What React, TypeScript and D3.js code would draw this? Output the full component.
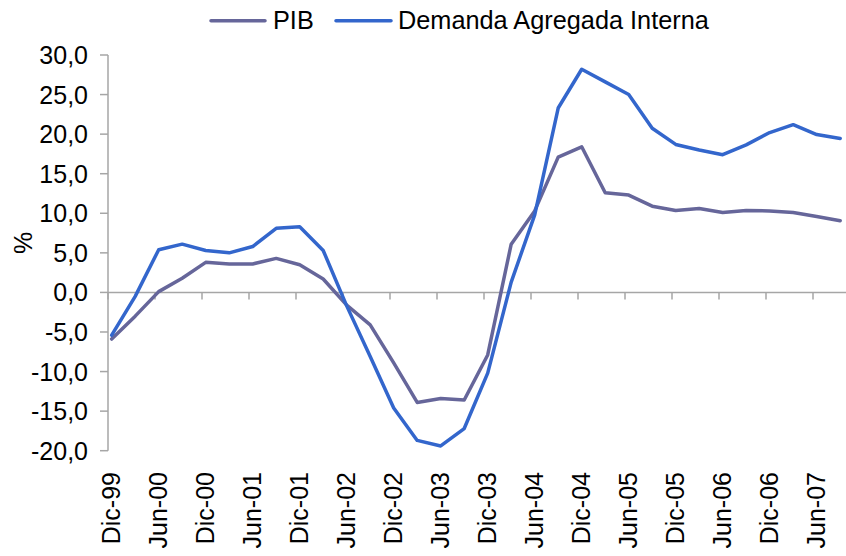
import React from "react";
import * as d3 from "d3";

const categories = [
  "Dic-99","Mar-00","Jun-00","Sep-00","Dic-00","Mar-01","Jun-01","Sep-01",
  "Dic-01","Mar-02","Jun-02","Sep-02","Dic-02","Mar-03","Jun-03","Sep-03",
  "Dic-03","Mar-04","Jun-04","Sep-04","Dic-04","Mar-05","Jun-05","Sep-05",
  "Dic-05","Mar-06","Jun-06","Sep-06","Dic-06","Mar-07","Jun-07","Sep-07",
];

const pib = [
  -5.9, -3.0, 0.1, 1.8, 3.8, 3.6, 3.6, 4.3,
  3.5, 1.7, -1.6, -4.1, -8.9, -13.9, -13.4, -13.6,
  -7.9, 6.1, 10.3, 17.1, 18.4, 12.6, 12.3, 10.9,
  10.35, 10.6, 10.1, 10.35, 10.3, 10.1, 9.6, 9.05,
];

const demanda = [
  -5.4, -0.5, 5.4, 6.1, 5.3, 5.0, 5.8, 8.1,
  8.3, 5.3, -1.7, -8.1, -14.6, -18.7, -19.4, -17.2,
  -10.2, 1.3, 9.8, 23.3, 28.2, 26.6, 25.0, 20.75,
  18.7, 18.0, 17.4, 18.65, 20.2, 21.2, 19.95, 19.45,
];

const yTicks = [30, 25, 20, 15, 10, 5, 0, -5, -10, -15, -20];
const seriesNames = ["PIB", "Demanda Agregada Interna"];
const seriesColors = ["#66669A", "#3366CC"];

const W = 846;
const H = 556;
const FONT = "'Liberation Sans', Arial, sans-serif";
const FS = 25;

export default function App() {
  const x = d3.scaleLinear().domain([0, categories.length - 1]).range([111.7, 840.2]);
  const y = d3.scaleLinear().domain([-20, 30]).range([450.7, 55]);
  const axisX = 108;
  const tickOffset = -3.7;
  const fmt = (v: number) => d3.format(".1f")(v).replace(".", ",").replace("−", "-");

  const line = d3
    .line<number>()
    .x((_, i) => x(i))
    .y((d) => y(d));

  const series = [pib, demanda];
  const labelIdx = categories.map((_, i) => i).filter((i) => i % 2 === 0);

  return (
    <svg width={W} height={H} style={{ position: "absolute", left: 0, top: 0, background: "#fff" }}>
      <rect x={0} y={0} width={W} height={H} fill="#fff" />
      {/* Y axis */}
      <line x1={axisX} x2={axisX} y1={y(30)} y2={y(-20)} stroke="#A6A6A6" strokeWidth={1.5} />
      {yTicks.map((t) => (
        <g key={t}>
          <line x1={axisX - 8} x2={axisX} y1={y(t)} y2={y(t)} stroke="#A6A6A6" strokeWidth={1.5} />
          <text
            x={88}
            y={y(t)}
            dy="0.36em"
            textAnchor="end"
            fontFamily={FONT}
            fontSize={FS}
            fill="#000"
          >
            {fmt(t)}
          </text>
        </g>
      ))}
      {/* X axis at zero */}
      <line x1={axisX} x2={W} y1={y(0)} y2={y(0)} stroke="#A6A6A6" strokeWidth={1.5} />
      {labelIdx.map((i) => (
        <line
          key={"t" + i}
          x1={x(i) + tickOffset}
          x2={x(i) + tickOffset}
          y1={y(0)}
          y2={y(0) + 7}
          stroke="#A6A6A6"
          strokeWidth={1.5}
        />
      ))}
      {labelIdx.map((i) => (
        <text
          key={"l" + i}
          transform={`translate(${x(i) - 1},472) rotate(-90)`}
          dy="0.36em"
          textAnchor="end"
          fontFamily={FONT}
          fontSize={FS}
          fill="#000"
        >
          {categories[i]}
        </text>
      ))}
      {/* Y label */}
      <text
        transform={`translate(23,243) rotate(-90)`}
        dy="0.36em"
        textAnchor="middle"
        fontFamily={FONT}
        fontSize={FS}
        fill="#000"
      >
        %
      </text>
      {/* Lines */}
      {series.map((s, k) => (
        <path
          key={k}
          d={line(s) || ""}
          fill="none"
          stroke={seriesColors[k]}
          strokeWidth={3.5}
          strokeLinejoin="round"
          strokeLinecap="round"
        />
      ))}
      {/* Legend */}
      <g>
        <line x1={211} x2={265} y1={20.7} y2={20.7} stroke={seriesColors[0]} strokeWidth={3.5} strokeLinecap="round" />
        <text x={273} y={29} fontFamily={FONT} fontSize={25.3} fill="#000">
          {seriesNames[0]}
        </text>
        <line x1={336} x2={391} y1={20.7} y2={20.7} stroke={seriesColors[1]} strokeWidth={3.5} strokeLinecap="round" />
        <text x={398} y={29} fontFamily={FONT} fontSize={25.3} fill="#000">
          {seriesNames[1]}
        </text>
      </g>
    </svg>
  );
}
